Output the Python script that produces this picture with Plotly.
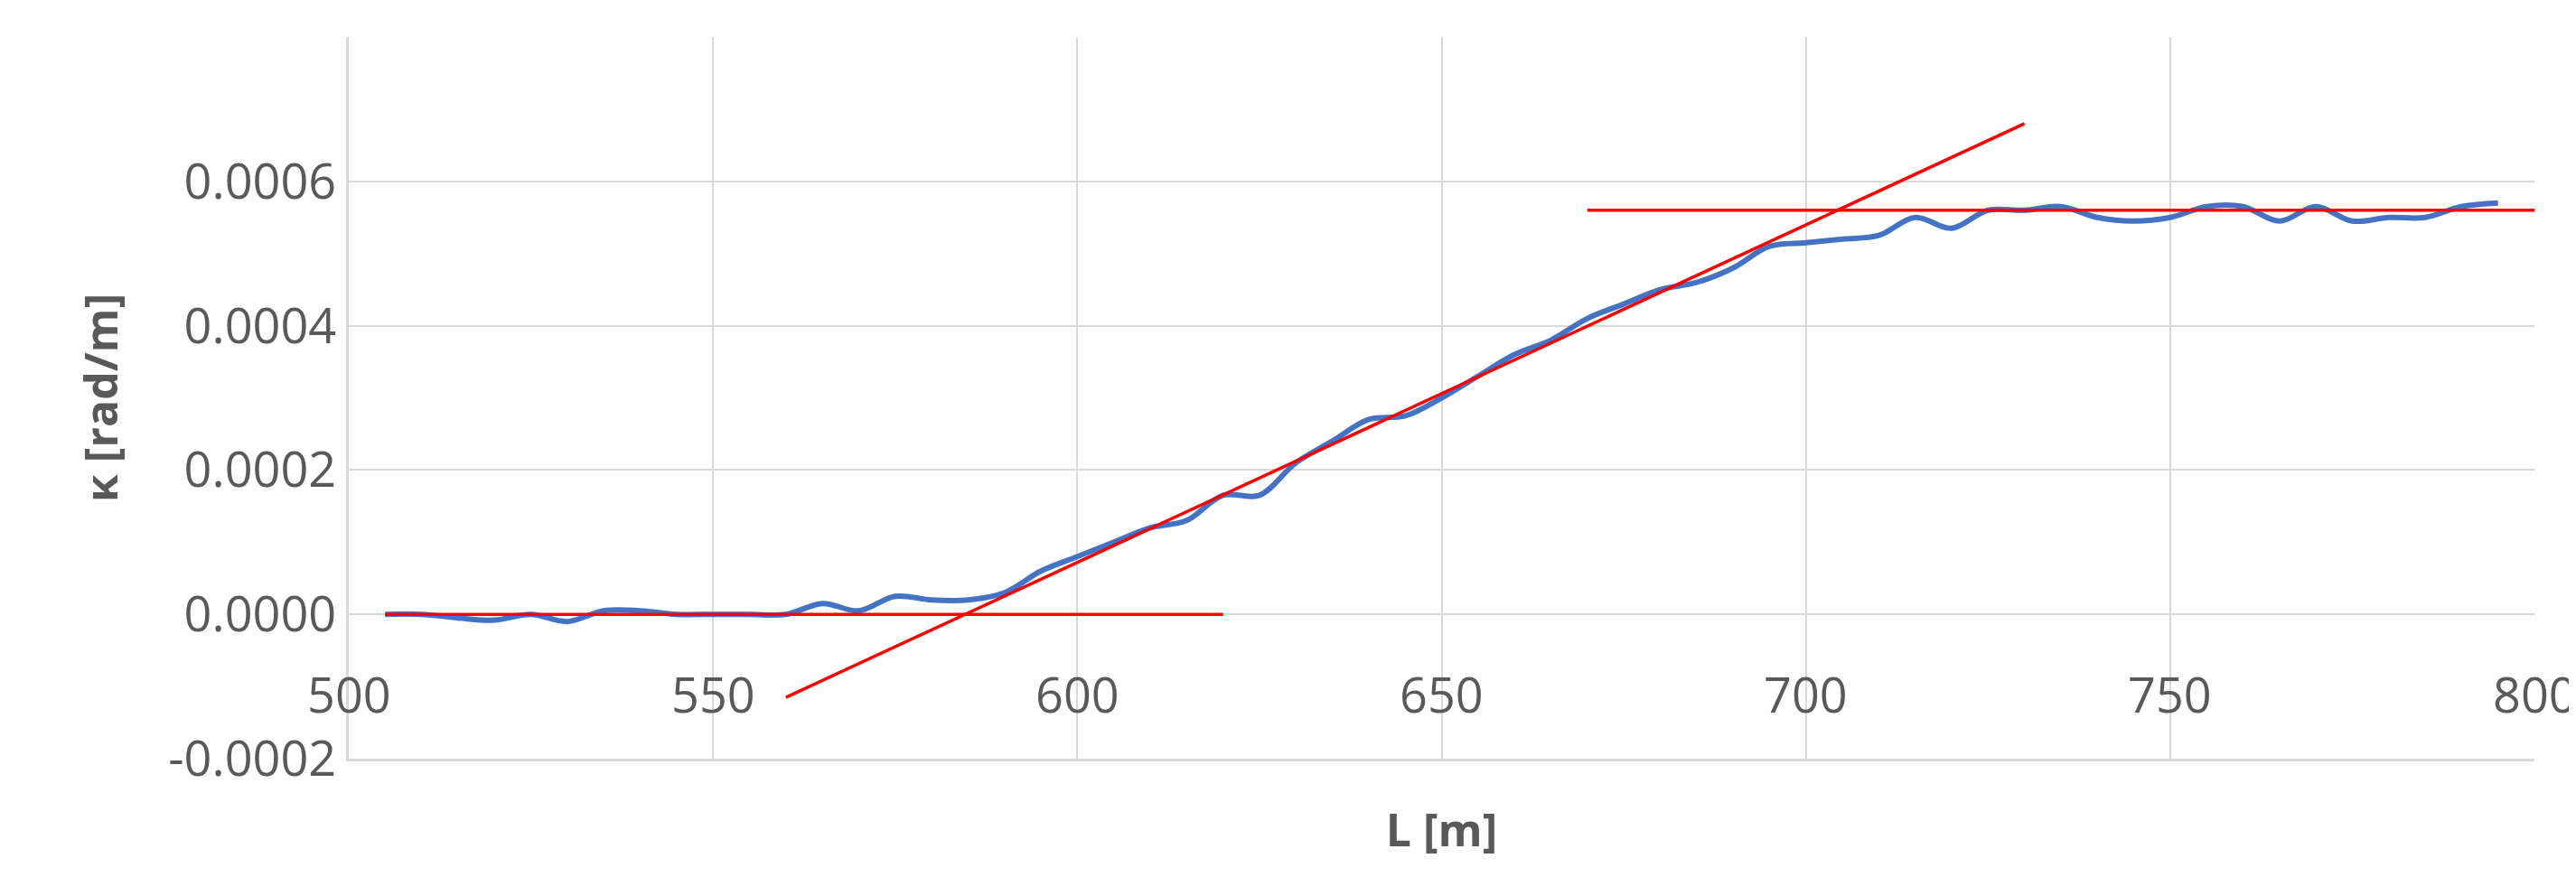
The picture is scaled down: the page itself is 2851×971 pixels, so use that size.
import plotly.graph_objects as go

L = [505,510,515,520,525,530,535,540,545,550,555,560,565,570,575,580,585,590,595,600,605,610,615,620,625,630,635,640,645,650,655,660,665,670,675,680,685,690,695,700,705,710,715,720,725,730,735,740,745,750,755,760,765,770,775,780,785,790,795]
kappa = [0,0,-0.000005,-0.000008,0,-0.00001,0.000005,0.000005,0,0,0,0,0.000015,0.000005,0.000025,0.00002,0.00002,0.00003,0.00006,0.00008,0.0001,0.00012,0.00013,0.000165,0.000165,0.00021,0.00024,0.00027,0.000275,0.0003,0.00033,0.00036,0.00038,0.00041,0.00043,0.00045,0.00046,0.00048,0.00051,0.000515,0.00052,0.000525,0.00055,0.000535,0.00056,0.00056,0.000565,0.00055,0.000545,0.00055,0.000565,0.000565,0.000545,0.000565,0.000545,0.00055,0.00055,0.000565,0.00057]
fit1_x = [505, 620]; fit1_y = [0, 0]
fit2_x = [560, 730]; fit2_y = [-0.000115, 0.00068]
fit3_x = [670, 800]; fit3_y = [0.00056, 0.00056]
xticks = [500, 550, 600, 650, 700, 750, 800]
yticks = [-0.0002, 0, 0.0002, 0.0004, 0.0006, 0.0008]
ytext = ["-0.0002", "0.0000", "0.0002", "0.0004", "0.0006", "0.0008"]

fig = go.Figure()
fig.add_trace(go.Scatter(x=L, y=kappa, mode="lines", line=dict(color="#4472C4", width=6, shape="spline")))
for xs, ys in [(fit1_x, fit1_y), (fit2_x, fit2_y), (fit3_x, fit3_y)]:
    fig.add_trace(go.Scatter(x=xs, y=ys, mode="lines", line=dict(color="#FF0000", width=3.5)))

font = dict(family="Open Sans", color="#595959", size=54)
for t in xticks:
    fig.add_annotation(x=t, y=0, text=str(t), showarrow=False, yshift=-88, font=font)

fig.update_layout(
    width=2851, height=971, showlegend=False,
    paper_bgcolor="white", plot_bgcolor="white",
    margin=dict(l=378, r=54, t=33, b=139),
    font=font,
    xaxis=dict(range=[500, 800], tickvals=xticks, showticklabels=False, showgrid=True,
               gridcolor="#D9D9D9", gridwidth=2, zeroline=False,
               showline=True, linecolor="#D9D9D9", linewidth=3,
               title=dict(text="<b>L [m]</b>", font=dict(size=50, color="#595959"), standoff=60)),
    yaxis=dict(range=[-0.0002, 0.00080001], tickvals=yticks, ticktext=ytext, showgrid=True,
               gridcolor="#D9D9D9", gridwidth=2, zeroline=False,
               showline=True, linecolor="#D9D9D9", linewidth=3, ticklen=0, ticks="",
               title=dict(text="<b>κ [rad/m]</b>", font=dict(size=50, color="#595959"), standoff=40)),
)
fig.write_html("out.html")
